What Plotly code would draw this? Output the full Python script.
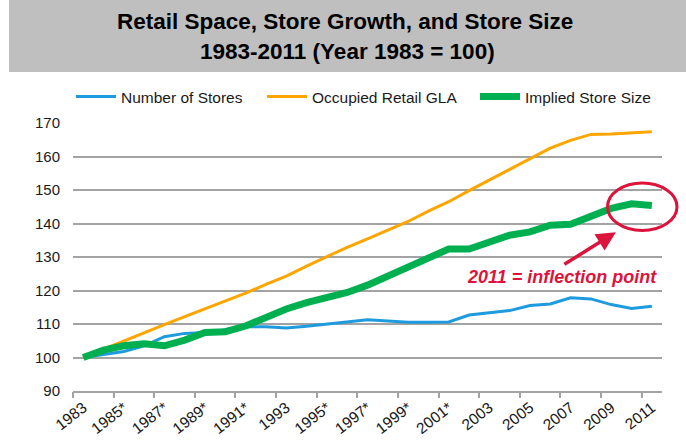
import plotly.graph_objects as go

# ---------------- data ----------------
years = ["1983", "1984", "1985*", "1986", "1987*", "1988", "1989*", "1990", "1991*",
         "1992", "1993", "1994", "1995*", "1996", "1997*", "1998", "1999*", "2000",
         "2001*", "2002", "2003", "2004", "2005", "2006", "2007", "2008", "2009",
         "2010", "2011"]

number_of_stores = [100, 101, 101.8, 103.5, 106.2, 107.2, 107.5, 108.3, 109.2, 109.2,
                    108.8, 109.3, 110, 110.8, 111.3, 110.9, 110.5, 110.5, 110.6, 112.7,
                    113.4, 114, 115.5, 116, 117.8, 117.5, 115.8, 114.6, 115.3]

occupied_gla = [100, 102.5, 105, 107.5, 109.8, 112.2, 114.5, 116.8, 119.2, 121.8,
                124.3, 127.3, 130.2, 132.9, 135.4, 137.9, 140.6, 143.7, 146.5, 149.8,
                153, 156.3, 159.5, 162.5, 164.8, 166.6, 166.7, 167, 167.4]

implied_size = [100, 102.2, 103.5, 104.1, 103.5, 105.2, 107.5, 107.7, 109.4, 112,
                114.5, 116.4, 117.9, 119.4, 121.6, 124.3, 127.3, 130, 132.4, 132.4,
                134.3, 136.5, 137.5, 139.5, 139.8, 142, 144.5, 145.9, 145.4]

series_names = ["Number of Stores", "Occupied Retail GLA", "Implied Store Size"]
y_ticks = [90, 100, 110, 120, 130, 140, 150, 160, 170]
title_line1 = "Retail Space, Store Growth, and Store Size"
title_line2 = "1983-2011 (Year 1983 = 100)"
callout_text = "2011 = inflection point"

# ---------------- layout geometry ----------------
W, H = 686, 442
ML, MR, MT, MB = 73, 24, 123, 51
PW, PH = W - ML - MR, H - MT - MB

def px_x(px):
    return (px - ML) / PW

def px_y(py):
    return (H - MB - py) / PH

FONT = "Arial, Liberation Sans, sans-serif"
GRID = "#A3A3A3"
RED = "#DC143C"
TXT = "#1a1a1a"

xs = list(range(len(years)))
fig = go.Figure()
fig.add_trace(go.Scatter(x=xs, y=number_of_stores, name=series_names[0], legend="legend",
                         mode="lines", line=dict(color="#1E9BDE", width=3)))
fig.add_trace(go.Scatter(x=xs, y=occupied_gla, name=series_names[1], legend="legend2",
                         mode="lines", line=dict(color="#FFA500", width=3)))
fig.add_trace(go.Scatter(x=xs, y=implied_size, name=series_names[2], legend="legend3",
                         mode="lines", line=dict(color="#00B050", width=7)))

# invisible trace on xaxis2 to hold boundary tick marks
fig.add_trace(go.Scatter(x=[-0.5], y=[None], xaxis="x2", showlegend=False,
                         hoverinfo="skip", mode="lines"))

def legend_at(px):
    return dict(orientation="h", x=px_x(px), xanchor="left", y=px_y(97), yanchor="middle",
                font=dict(size=15.5, color=TXT, family=FONT), bgcolor="rgba(0,0,0,0)",
                itemwidth=40)

n = len(years)
fig.update_layout(
    width=W, height=H,
    margin=dict(l=ML, r=MR, t=MT, b=MB),
    paper_bgcolor="white", plot_bgcolor="white",
    font=dict(family=FONT, size=15, color=TXT),
    showlegend=True,
    legend=legend_at(71),
    legend2=legend_at(262),
    legend3=legend_at(475),
    xaxis=dict(range=[-0.5, n - 0.5], tickmode="array",
               tickvals=list(range(0, n, 2)), ticktext=years[0::2],
               tickangle=-38, ticks="", showgrid=False, zeroline=False,
               showline=True, linecolor=GRID, linewidth=1.5, automargin=False,
               tickfont=dict(size=15.5, color=TXT)),
    xaxis2=dict(range=[-0.5, n - 0.5], overlaying="x", side="bottom", tickmode="array",
                tickvals=[v - 0.5 for v in range(0, n, 2)], ticks="outside", ticklen=6,
                tickwidth=1.5, tickcolor=GRID, showticklabels=False, showgrid=False,
                zeroline=False, showline=False, automargin=False),
    yaxis=dict(range=[90, 170], tickmode="array", tickvals=y_ticks, showgrid=True,
               gridcolor=GRID, gridwidth=1.5, zeroline=False, showline=False, ticks="",
               ticklabelstandoff=12, automargin=False,
               tickfont=dict(size=15, color=TXT)),
)

# title bar
fig.add_shape(type="rect", xref="paper", yref="paper", x0=px_x(9), x1=px_x(W + 5),
              y0=px_y(72), y1=px_y(-5), fillcolor="#BFBFBF", line=dict(width=0), layer="below")
fig.add_annotation(xref="paper", yref="paper", x=px_x(345), y=px_y(22), text="<b>" + title_line1 + "</b>",
                   showarrow=False, font=dict(size=22.5, color="black", family=FONT),
                   xanchor="center", yanchor="middle")
fig.add_annotation(xref="paper", yref="paper", x=px_x(347), y=px_y(52), text="<b>" + title_line2 + "</b>",
                   showarrow=False, font=dict(size=22.5, color="black", family=FONT),
                   xanchor="center", yanchor="middle")

# callout ellipse
fig.add_shape(type="circle", xref="paper", yref="paper", x0=px_x(607.5), x1=px_x(677),
              y0=px_y(230.5), y1=px_y(183), line=dict(color=RED, width=3))

# callout text
fig.add_annotation(x=23.6, y=123.9, text="<b><i>" + callout_text + "</i></b>", showarrow=False,
                   font=dict(size=18, color=RED, family=FONT), bgcolor="white",
                   xanchor="center", yanchor="middle")
# arrow
fig.add_annotation(x=26.23, y=137.4, text="", showarrow=True, arrowhead=2, arrowsize=1.1,
                   arrowwidth=3.5, arrowcolor=RED, ax=-53, ay=33)

fig.write_html("out.html")
